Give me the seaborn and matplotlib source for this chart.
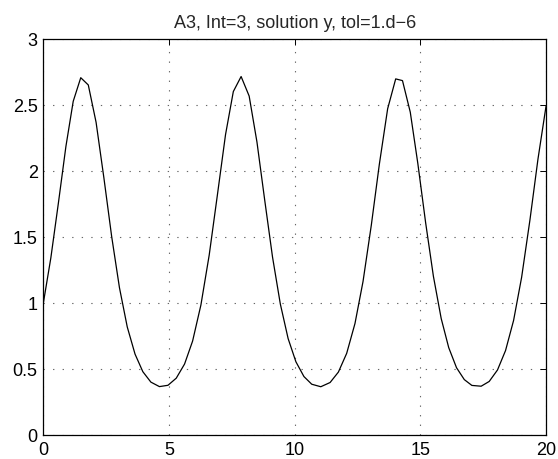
import matplotlib
matplotlib.use("Agg")
import matplotlib.pyplot as plt
import seaborn as sns
import pandas as pd

t_vals = [0, 0.3, 0.6, 0.9, 1.19, 1.49, 1.79, 2.1, 2.41, 2.72, 3.03, 3.34, 3.65, 3.96,
          4.28, 4.62, 4.96, 5.29, 5.62, 5.94, 6.27, 6.6, 6.92, 7.25, 7.56, 7.87, 8.19,
          8.5, 8.81, 9.12, 9.43, 9.74, 10.05, 10.37, 10.68, 11.04, 11.41, 11.74, 12.07,
          12.4, 12.72, 13.05, 13.37, 13.7, 14.02, 14.29, 14.6, 14.9, 15.21, 15.52, 15.83,
          16.13, 16.44, 16.75, 17.05, 17.42, 17.74, 18.07, 18.39, 18.71, 19.03, 19.36,
          19.68, 20.0]
y_vals = [1.000, 1.344, 1.759, 2.189, 2.530, 2.709, 2.654, 2.371, 1.951, 1.506, 1.118,
          0.821, 0.615, 0.482, 0.403, 0.369, 0.379, 0.433, 0.540, 0.714, 0.987, 1.365,
          1.812, 2.278, 2.604, 2.718, 2.570, 2.222, 1.780, 1.350, 0.995, 0.733, 0.557,
          0.445, 0.387, 0.368, 0.400, 0.479, 0.621, 0.847, 1.165, 1.592, 2.054, 2.474,
          2.700, 2.687, 2.448, 2.060, 1.612, 1.205, 0.885, 0.664, 0.512, 0.422, 0.378,
          0.372, 0.408, 0.495, 0.642, 0.870, 1.197, 1.630, 2.092, 2.492]
x_ticks = [0, 5, 10, 15, 20]
y_ticks = [0, 0.5, 1, 1.5, 2, 2.5, 3]
y_labels = ["0", "0.5", "1", "1.5", "2", "2.5", "3"]
title = "A3, Int=3, solution y, tol=1.d\u22126"

sns.set_theme(style="white")
plt.rcParams['font.family'] = ['Liberation Sans', 'DejaVu Sans']

fig = plt.figure(figsize=(5.58, 4.59), dpi=100)
ax = fig.add_axes([0.0776, 0.0516, 0.9785 - 0.0776, 0.9144 - 0.0516])

df = pd.DataFrame({"t": t_vals, "y": y_vals})
sns.lineplot(data=df, x="t", y="y", ax=ax, color="black", linewidth=0.9,
             sort=False, estimator=None)

ax.set_xlim(0, 20)
ax.set_ylim(0, 3)
ax.set_xticks(x_ticks)
ax.set_xticklabels([str(v) for v in x_ticks])
ax.set_yticks(y_ticks)
ax.set_yticklabels(y_labels)
ax.set_xlabel("")
ax.set_ylabel("")
ax.grid(True, linestyle=(0, (1.2, 7.4)), color="#666666", linewidth=0.8)
ax.tick_params(direction="in", length=4, width=0.7, top=True, right=True,
               labelsize=13, colors="black")
ax.tick_params(axis="x", pad=5)
ax.tick_params(axis="y", pad=4)
for s in ax.spines.values():
    s.set_color("black")
    s.set_linewidth(0.9)
ax.set_title(title, fontsize=13, pad=8)

fig.savefig("out.png", dpi=100, facecolor="white")
